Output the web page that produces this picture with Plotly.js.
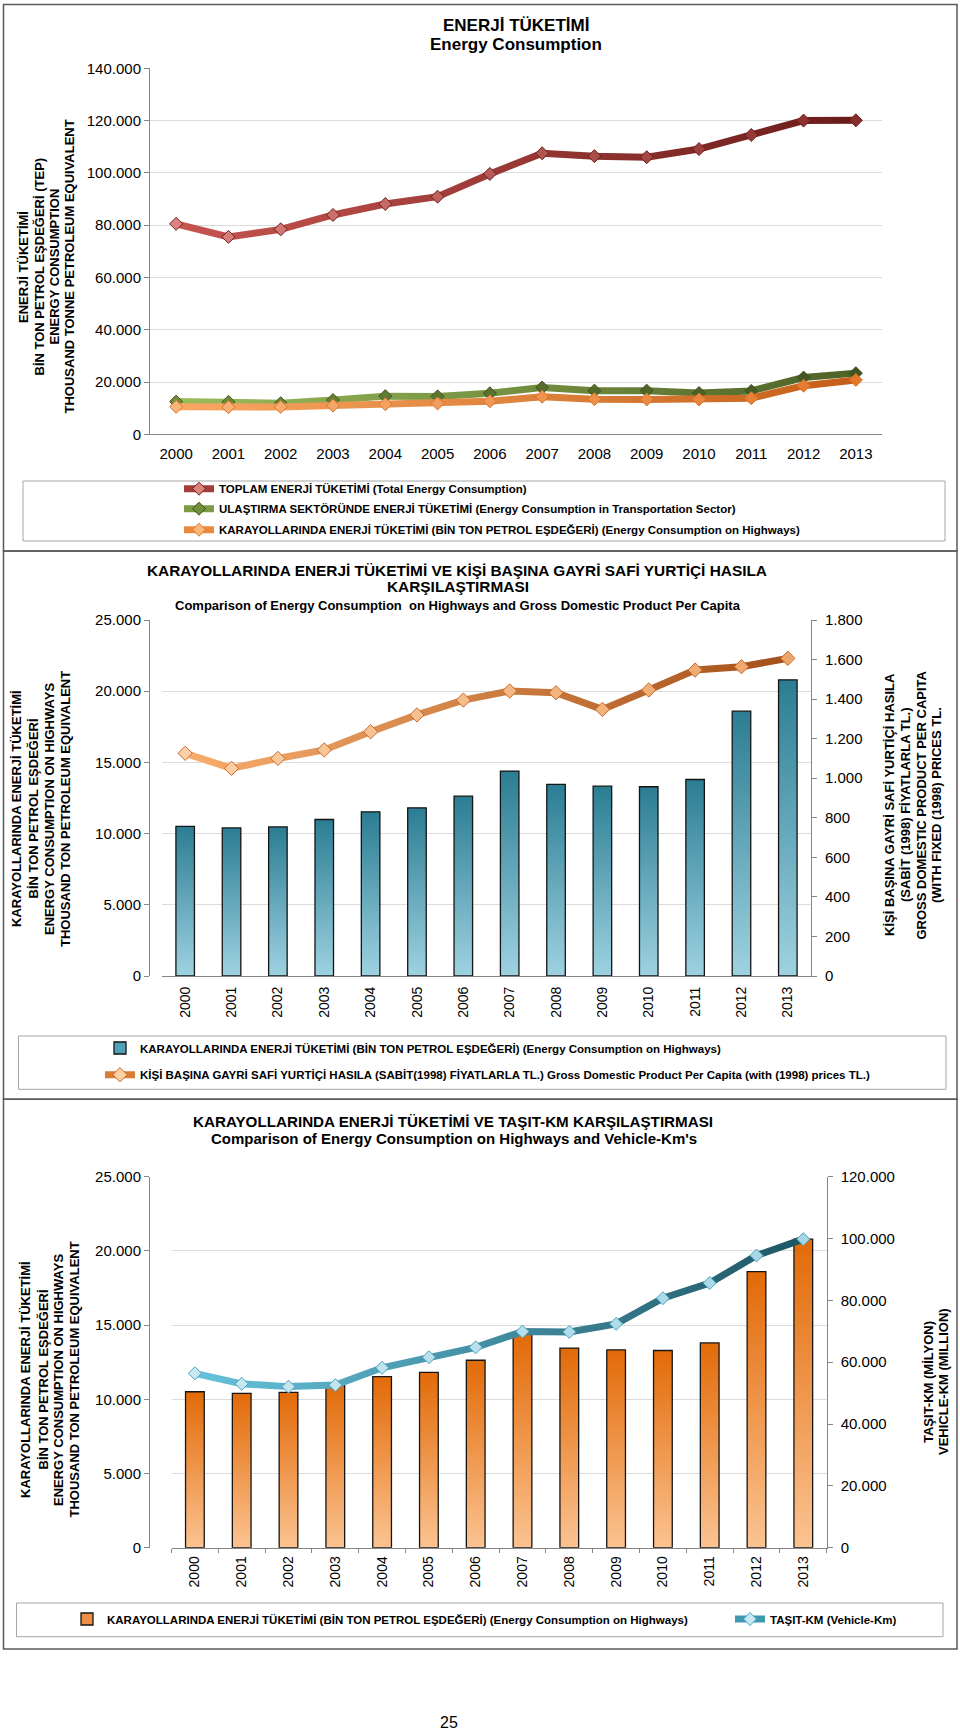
<!DOCTYPE html>
<html><head><meta charset="utf-8">
<script src="https://cdn.plot.ly/plotly-3.0.1.min.js"></script>
<style>html,body{margin:0;padding:0;background:#fff}#chart{width:960px;height:1731px}</style>
</head><body><div id="chart"></div>
<script>
// ---------------- DATA ----------------
const years = ['2000','2001','2002','2003','2004','2005','2006','2007','2008','2009','2010','2011','2012','2013'];
const totalEnergy     = [80500, 75500, 78400, 83900, 88100, 90900, 99600, 107500, 106400, 106000, 109100, 114500, 120000, 120100];
const transportEnergy = [12500, 12400, 11900, 13100, 14600, 14500, 15700, 17900, 16700, 16700, 15800, 16600, 21700, 23400];
const highwayEnergy   = [10510, 10400, 10470, 10990, 11530, 11810, 12630, 14390, 13450, 13330, 13290, 13800, 18600, 20800];
const gdpPerCapita    = [1126, 1050, 1100, 1143, 1235, 1320, 1395, 1441, 1432, 1348, 1446, 1547, 1564, 1606];
const vehicleKm       = [56400, 53000, 52100, 52600, 58200, 61600, 64800, 69900, 69800, 72400, 80700, 85600, 94500, 99800];

const nameTotal     = 'TOPLAM ENERJİ TÜKETİMİ (Total Energy Consumption)';
const nameTransport = 'ULAŞTIRMA SEKTÖRÜNDE ENERJİ TÜKETİMİ (Energy Consumption in Transportation Sector)';
const nameHighway   = 'KARAYOLLARINDA ENERJİ TÜKETİMİ (BİN TON PETROL EŞDEĞERİ) (Energy Consumption on Highways)';
const nameGdp       = 'KİŞİ BAŞINA GAYRİ SAFİ YURTİÇİ HASILA (SABİT(1998) FİYATLARLA TL.) Gross Domestic Product Per Capita (with (1998) prices TL.)';
const nameVkm       = 'TAŞIT-KM (Vehicle-Km)';

const title1 = ['ENERJİ TÜKETİMİ', 'Energy Consumption'];
const title2 = ['KARAYOLLARINDA ENERJİ TÜKETİMİ VE KİŞİ BAŞINA GAYRİ SAFİ YURTİÇİ HASILA', 'KARŞILAŞTIRMASI', 'Comparison of Energy Consumption  on Highways and Gross Domestic Product Per Capita'];
const title3 = ['KARAYOLLARINDA ENERJİ TÜKETİMİ VE TAŞIT-KM KARŞILAŞTIRMASI', "Comparison of Energy Consumption on Highways and Vehicle-Km's"];

const yTitle1  = ['ENERJİ TÜKETİMİ', 'BİN TON PETROL EŞDEĞERİ (TEP)', 'ENERGY CONSUMPTION', 'THOUSAND TONNE PETROLEUM EQUIVALENT'];
const yTitle2  = ['KARAYOLLARINDA ENERJİ TÜKETİMİ', 'BİN TON PETROL EŞDEĞERİ', 'ENERGY CONSUMPTION ON HIGHWAYS', 'THOUSAND TON PETROLEUM EQUIVALENT'];
const yTitle2r = ['KİŞİ BAŞINA GAYRİ SAFİ YURTİÇİ HASILA', '(SABİT (1998) FİYATLARLA TL.)', 'GROSS DOMESTIC PRODUCT PER CAPITA', '(WITH FIXED (1998) PRICES TL.'];
const yTitle3  = ['KARAYOLLARINDA ENERJİ TÜKETİMİ', 'BİN TON PETROL EŞDEĞERİ', 'ENERGY CONSUMPTION ON HIGHWAYS', 'THOUSAND TON PETROLEUM EQUIVALENT'];
const yTitle3r = ['TAŞIT-KM (MİLYON)', 'VEHICLE-KM (MILLION)'];
const pageNumber = '25';

// ---------------- HELPERS ----------------
const W = 960, H = 1731;
const px = v => v / W;
const py = v => 1 - v / H;
const FONT = 'Liberation Sans, Arial, Helvetica, sans-serif';

function hex2rgb(h){ h=h.replace('#',''); return [0,2,4].map(i=>parseInt(h.substr(i,2),16)); }
function mix(a,b,t){ const A=hex2rgb(a),B=hex2rgb(b); return 'rgb('+A.map((v,i)=>Math.round(v+(B[i]-v)*t)).join(',')+')'; }
function ramp(a,b,n){ const out=[]; for(let i=0;i<n;i++) out.push(mix(a,b,n>1?i/(n-1):0)); return out; }

const N = years.length;

// ---------------- TRACES ----------------
const traces = [
  { type:'scatter', mode:'lines+markers', name:nameTotal, x:years, y:totalEnergy, xaxis:'x', yaxis:'y',
    line:{color:'#a33e3a', width:7}, marker:{symbol:'diamond', size:10, color:ramp('#de8480','#8a2c29',N), line:{color:'#6e1f1d', width:1}},
    legend:'legend', meta:'gTotal' },
  { type:'scatter', mode:'lines+markers', name:nameTransport, x:years, y:transportEnergy, xaxis:'x', yaxis:'y',
    line:{color:'#7d9a45', width:7}, marker:{symbol:'diamond', size:10, color:ramp('#6f8f3a','#3f5220',N), line:{color:'#3f5220', width:1}},
    legend:'legend2', meta:'gTransport' },
  { type:'scatter', mode:'lines+markers', name:nameHighway, x:years, y:highwayEnergy, xaxis:'x', yaxis:'y',
    line:{color:'#ea8a3e', width:7}, marker:{symbol:'diamond', size:10, color:ramp('#fbb57a','#e3772a',N), line:{color:'#d8752c', width:1}},
    legend:'legend3', meta:'gHighway' },

  { type:'bar', name:nameHighway, x:years, y:highwayEnergy, xaxis:'x2', yaxis:'y2',
    marker:{color:'#4ea2b9', line:{color:'#151515', width:1.3}}, legend:'legend4', meta:'gBarBlue' },
  { type:'scatter', mode:'lines+markers', name:nameGdp, x:years, y:gdpPerCapita, xaxis:'x2', yaxis:'y3',
    line:{color:'#d77d34', width:7}, marker:{symbol:'diamond', size:11, color:ramp('#fcd0a6','#eea66a',N), line:{color:'#c8692a', width:1}},
    legend:'legend5', meta:'gGdp' },

  { type:'bar', name:nameHighway, x:years, y:highwayEnergy, xaxis:'x3', yaxis:'y4',
    marker:{color:'#ef8f45', line:{color:'#151515', width:1.3}}, legend:'legend6', meta:'gBarOrange' },
  { type:'scatter', mode:'lines+markers', name:nameVkm, x:years, y:vehicleKm, xaxis:'x3', yaxis:'y5',
    line:{color:'#3f97b0', width:7}, marker:{symbol:'diamond', size:10, color:ramp('#c9e8f2','#a6d6e6',N), line:{color:'#4aa5c0', width:1}},
    legend:'legend7', meta:'gVkm' }
];

// ---------------- AXES ----------------
const AX = '#868686', GRID = '#dcdcdc';
const tickF = {family:FONT, size:15, color:'#000'};
function xCat(d0,d1,anchor,extra){ return Object.assign({domain:[px(d0),px(d1)], anchor:anchor, type:'category', range:[-0.5,13.5],
  showline:true, linecolor:AX, linewidth:1, showgrid:false, zeroline:false, ticks:'', tickfont:{family:FONT,size:15,color:'#000'}, fixedrange:true}, extra||{}); }
function yLin(t,b,rng,dt,extra){ return Object.assign({domain:[py(b),py(t)], range:rng, dtick:dt, tick0:0, tickformat:',d',
  showline:true, linecolor:AX, linewidth:1, ticks:'outside', ticklen:5, tickcolor:AX, showgrid:true, gridcolor:GRID, gridwidth:1,
  zeroline:false, tickfont:tickF, fixedrange:true}, extra||{}); }

const layout = {
  width:W, height:H, margin:{l:0,r:0,t:0,b:0}, paper_bgcolor:'#fff', plot_bgcolor:'rgba(0,0,0,0)',
  separators:',.', font:{family:FONT, color:'#000'}, showlegend:true, hovermode:false,
  bargap:0.6,
  xaxis:  xCat(150, 882, 'y', {ticklabelstandoff:6}),
  yaxis:  yLin(68.3, 434.3, [0,140000], 20000),
  xaxis2: xCat(162, 811, 'y2', {tickangle:-90, tickfont:{family:FONT,size:14,color:'#000'}, ticklabelstandoff:4}),
  yaxis2: yLin(620, 976, [0,25000], 5000),
  yaxis3: yLin(620, 976, [0,1800], 200, {overlaying:'y2', side:'right', anchor:'x2', showgrid:false, ticklabelstandoff:5}),
  xaxis3: xCat(171.5, 826.7, 'y4', {tickangle:-90, tickfont:{family:FONT,size:14,color:'#000'}, ticks:'outside', tickson:'boundaries', ticklen:4, tickcolor:AX, ticklabelstandoff:2}),
  yaxis4: yLin(1176.7, 1547.7, [0,25000], 5000),
  yaxis5: yLin(1176.7, 1547.7, [0,120000], 20000, {overlaying:'y4', side:'right', anchor:'x3', showgrid:false, ticklabelstandoff:5}),
  shapes:[], annotations:[]
};

// legends: one per entry, positioned by text start (x) and centre (y)
function leg(xText, yC){ return {x:px(xText-40), y:py(yC), xanchor:'left', yanchor:'middle', bgcolor:'rgba(0,0,0,0)', borderwidth:0,
  font:{family:FONT, size:11.5, color:'#000', weight:'bold'}, itemclick:false, itemdoubleclick:false}; }
layout.legend  = leg(219, 488.7);
layout.legend2 = leg(219, 508.7);
layout.legend3 = leg(219, 529.7);
layout.legend4 = leg(140, 1048);
layout.legend5 = leg(140, 1074.7);
layout.legend6 = leg(107, 1619);
layout.legend7 = leg(770, 1619);

// frames
function rect(x0,y0,x1,y1,col,w){ return {type:'rect', xref:'paper', yref:'paper', x0:px(x0), x1:px(x1), y0:py(y1), y1:py(y0), line:{color:col,width:w}, fillcolor:'rgba(0,0,0,0)', layer:'below'}; }
layout.shapes.push(rect(3.5,4.5,957,551,'#5a5a5a',1.5));
layout.shapes.push(rect(3.5,551,957,1099.3,'#5a5a5a',1.5));
layout.shapes.push(rect(3.5,1099.3,957,1649,'#5a5a5a',1.5));
layout.shapes.push(rect(23,481,945,541,'#a6a6a6',1));
layout.shapes.push(rect(18.5,1036,946,1089.3,'#a6a6a6',1));
layout.shapes.push(rect(16.5,1603,943,1636.7,'#a6a6a6',1));

// text helpers
function txt(s, x, y, size, bold, angle){ return {text: bold ? '<b>'+s+'</b>' : s, x:px(x), y:py(y), xref:'paper', yref:'paper',
  showarrow:false, xanchor:'center', yanchor:'middle', textangle:angle||0, font:{family:FONT, size:size, color:'#000'}}; }
const A = layout.annotations;
// chart titles
A.push(txt(title1[0], 516, 25.5, 17, true));
A.push(txt(title1[1], 516, 44.5, 17, true));
A.push(txt(title2[0], 457, 570.5, 15.4, true));
A.push(txt(title2[1], 458, 587, 15.4, true));
A.push(txt(title2[2], 458, 605, 13, true));
A.push(txt(title3[0], 453, 1121.7, 15.2, true));
A.push(txt(title3[1], 453.5, 1138.5, 15, true));
// axis titles (rotated, one annotation per line)
function vLines(lines, xs, yC, size){ lines.forEach((s,i)=>A.push(txt(s, xs[i], yC, size, true, -90))); }
vLines(yTitle1,  [23, 38.5, 53.5, 68.5], 267, 13);
vLines(yTitle2,  [16, 32.5, 49, 65], 809, 13);
vLines(yTitle2r, [890, 906, 921.5, 937], 805, 13);
vLines(yTitle3,  [25, 42.5, 58, 73.5], 1380, 13);
vLines(yTitle3r, [928, 943], 1382, 13);
A.push(txt(pageNumber, 449, 1722, 16, false));

const gradients = {
  gTotal:     {dir:'h', c0:'#c75550', c1:'#6a1c1a'},
  gTransport: {dir:'h', c0:'#9cbc5a', c1:'#4d6226'},
  gHighway:   {dir:'h', c0:'#f9a763', c1:'#c45f18'},
  gGdp:       {dir:'h', c0:'#f8ad6c', c1:'#a4501a'},
  gVkm:       {dir:'h', c0:'#66c2dc', c1:'#1e5664'},
  gBarBlue:   {dir:'v', c0:'#2b7d93', c1:'#9ed2e1'},
  gBarOrange: {dir:'v', c0:'#e26a08', c1:'#fbc391'}
};

const gd = document.getElementById('chart');
Plotly.newPlot(gd, traces, layout, {staticPlot:true, displayModeBar:false}).then(function(){
  const svg = gd.querySelector('svg.main-svg');
  const NS = 'http://www.w3.org/2000/svg';
  let defs = svg.querySelector('defs');
  if(!defs){ defs = document.createElementNS(NS,'defs'); svg.insertBefore(defs, svg.firstChild); }
  Object.keys(gradients).forEach(function(id){
    const g = gradients[id];
    const lg = document.createElementNS(NS,'linearGradient');
    lg.setAttribute('id', id);
    lg.setAttribute('x1','0'); lg.setAttribute('y1','0');
    lg.setAttribute('x2', g.dir==='h' ? '1':'0'); lg.setAttribute('y2', g.dir==='h' ? '0':'1');
    [[0,g.c0],[1,g.c1]].forEach(function(s){ const st=document.createElementNS(NS,'stop'); st.setAttribute('offset',s[0]); st.setAttribute('stop-color',s[1]); lg.appendChild(st); });
    defs.appendChild(lg);
  });
  gd.querySelectorAll('g.trace').forEach(function(g){
    const cd = g.__data__; const tr = cd && cd[0] && cd[0].trace;
    if(!tr || !tr.meta || !gradients[tr.meta]) return;
    if(tr.type==='bar'){ g.querySelectorAll('.point path').forEach(p=>{ p.style.fill='url(#'+tr.meta+')'; }); }
    else { g.querySelectorAll('path.js-line').forEach(p=>{ p.style.stroke='url(#'+tr.meta+')'; }); }
  });
});
</script>
</body></html>
